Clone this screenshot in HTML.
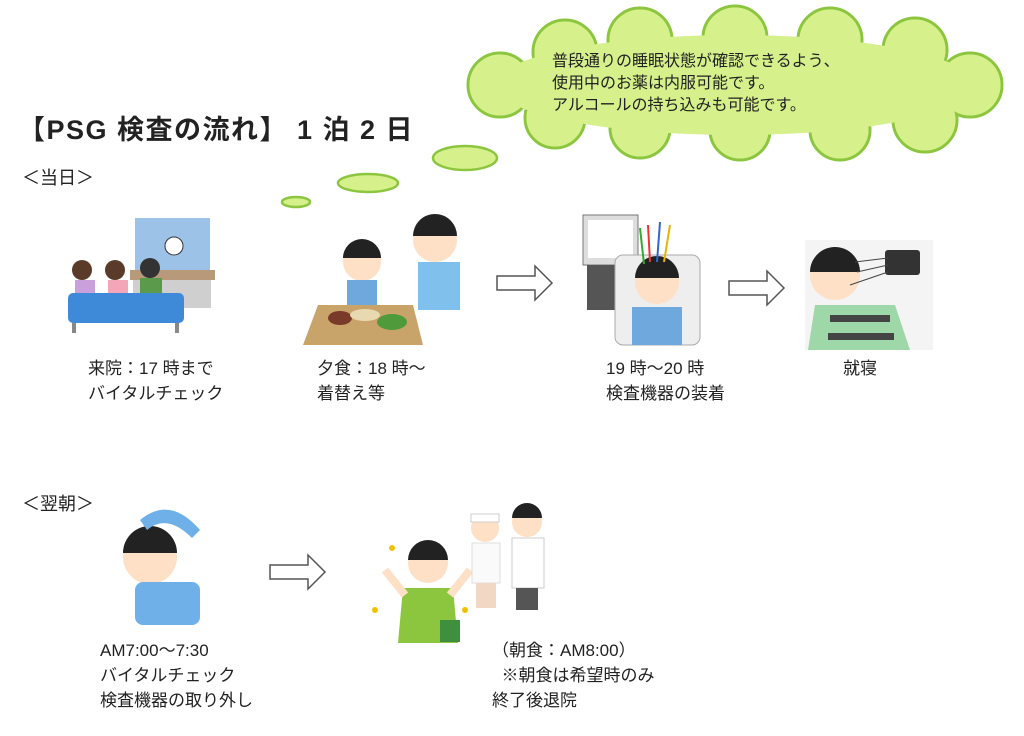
<!DOCTYPE html>
<html><head><meta charset="utf-8"><style>
body{margin:0;width:1024px;height:736px;background:#fff;position:relative;overflow:hidden;font-family:"Liberation Sans","Noto Sans CJK JP",sans-serif;color:#222}
.t{position:absolute;white-space:nowrap;font-size:17px;line-height:25px}
svg{position:absolute;left:0;top:0}
</style></head><body>
<svg width="1024" height="736" viewBox="0 0 1024 736">
<!-- cloud -->
<g fill="#d6f08c" stroke="#8cc63f" stroke-width="3">
<circle cx="565" cy="52" r="32"/><circle cx="640" cy="40" r="32"/><circle cx="735" cy="38" r="32"/><circle cx="830" cy="40" r="32"/><circle cx="915" cy="50" r="32"/>
<circle cx="970" cy="85" r="32"/><circle cx="925" cy="120" r="32"/><circle cx="840" cy="130" r="30"/><circle cx="740" cy="130" r="30"/>
<circle cx="640" cy="128" r="30"/><circle cx="555" cy="118" r="30"/><circle cx="500" cy="85" r="32"/>
</g>
<g fill="#d6f08c">
<circle cx="565" cy="52" r="30.5"/><circle cx="640" cy="40" r="30.5"/><circle cx="735" cy="38" r="30.5"/><circle cx="830" cy="40" r="30.5"/><circle cx="915" cy="50" r="30.5"/>
<circle cx="970" cy="85" r="30.5"/><circle cx="925" cy="120" r="30.5"/><circle cx="840" cy="130" r="28.5"/><circle cx="740" cy="130" r="28.5"/>
<circle cx="640" cy="128" r="28.5"/><circle cx="555" cy="118" r="28.5"/><circle cx="500" cy="85" r="30.5"/>
<ellipse cx="735" cy="85" rx="240" ry="50"/>
</g>
<g fill="#d6f08c" stroke="#8cc63f" stroke-width="2.5">
<ellipse cx="465" cy="158" rx="32" ry="12"/><ellipse cx="368" cy="183" rx="30" ry="9"/><ellipse cx="296" cy="202" rx="14" ry="5"/>
</g>
<!-- arrows -->
<g fill="#fff" stroke="#555" stroke-width="1.5">
<path d="M497 276h38v-10l17 17-17 17v-10h-38z"/>
<path d="M729 281h38v-10l17 17-17 17v-10h-38z"/>
<path d="M270 565h38v-10l17 17-17 17v-10h-38z"/>
</g>
<!-- reception -->
<rect x="135" y="218" width="75" height="70" fill="#9cc2e8"/>
<rect x="130" y="270" width="85" height="10" fill="#b89a7a"/>
<rect x="133" y="280" width="78" height="28" fill="#cfcfcf"/>
<circle cx="174" cy="246" r="9" fill="#fff" stroke="#333"/>
<circle cx="82" cy="270" r="10" fill="#5a3b2a"/><circle cx="115" cy="270" r="10" fill="#5a3b2a"/><circle cx="150" cy="268" r="10" fill="#333"/>
<rect x="75" y="280" width="20" height="15" fill="#c9a0dc"/><rect x="108" y="280" width="20" height="15" fill="#f4a6b8"/><rect x="140" y="278" width="22" height="17" fill="#5a9a4a"/>
<rect x="68" y="293" width="116" height="30" rx="5" fill="#3f8ad8"/>
<rect x="72" y="323" width="4" height="10" fill="#888"/><rect x="175" y="323" width="4" height="10" fill="#888"/>
<!-- dinner -->
<path d="M318 305h95l10 40H303z" fill="#c9a46a"/>
<circle cx="362" cy="262" r="19" fill="#fde0c5"/><path d="M343 258a19 19 0 0 1 38 0z" fill="#222"/>
<rect x="347" y="280" width="30" height="25" fill="#6fa8dc"/>
<circle cx="435" cy="240" r="22" fill="#fde0c5"/><path d="M413 236a22 22 0 0 1 44 0z" fill="#222"/>
<rect x="418" y="262" width="42" height="48" fill="#7fc0ec"/>
<ellipse cx="340" cy="318" rx="12" ry="7" fill="#7a3a2a"/><ellipse cx="392" cy="322" rx="15" ry="8" fill="#4f9a3a"/><ellipse cx="365" cy="315" rx="15" ry="6" fill="#e9d9b0"/>
<!-- EEG -->
<rect x="583" y="215" width="55" height="50" fill="#ddd" stroke="#777"/><rect x="588" y="220" width="45" height="38" fill="#fff"/>
<rect x="587" y="265" width="28" height="45" fill="#555"/>
<rect x="615" y="255" width="85" height="90" rx="8" fill="#eee" stroke="#aaa"/>
<circle cx="657" cy="282" r="22" fill="#fde0c5"/><path d="M635 278a22 22 0 0 1 44 0z" fill="#222"/>
<g stroke-width="2"><line x1="650" y1="262" x2="648" y2="225" stroke="#e33"/><line x1="657" y1="262" x2="660" y2="222" stroke="#36c"/><line x1="664" y1="262" x2="670" y2="225" stroke="#e9b400"/><line x1="644" y1="264" x2="640" y2="228" stroke="#3a3"/></g>
<rect x="632" y="307" width="50" height="38" fill="#6fa8dc"/>
<!-- sleep -->
<rect x="805" y="240" width="128" height="110" fill="#f4f4f4"/>
<circle cx="835" cy="275" r="25" fill="#fde0c5"/><path d="M810 272a25 25 0 0 1 50 0z" fill="#222"/>
<rect x="885" y="250" width="35" height="25" rx="3" fill="#333"/>
<g stroke="#444"><line x1="855" y1="262" x2="888" y2="258"/><line x1="857" y1="272" x2="888" y2="265"/><line x1="850" y1="285" x2="888" y2="272"/></g>
<path d="M815 305h80l15 45H808z" fill="#9ed8a8"/><rect x="830" y="315" width="60" height="7" fill="#444"/><rect x="828" y="333" width="66" height="7" fill="#444"/>
<!-- stretch -->
<circle cx="150" cy="557" r="27" fill="#fde0c5"/><path d="M123 553a27 27 0 0 1 54 0z" fill="#222"/>
<path d="M140 520q30-25 60 10l-8 8q-25-25-45-8z" fill="#6fb0e8"/>
<rect x="135" y="582" width="65" height="43" rx="8" fill="#6fb0e8"/>
<!-- happy -->
<circle cx="428" cy="563" r="20" fill="#fde0c5"/><path d="M408 560a20 20 0 0 1 40 0z" fill="#222"/>
<path d="M403 588h50l5 55h-60z" fill="#8cc63f"/><path d="M385 570l20 25M470 570l-20 25" stroke="#fde0c5" stroke-width="8"/>
<rect x="440" y="620" width="20" height="22" fill="#3f8f3f"/>
<circle cx="485" cy="528" r="14" fill="#fde0c5"/><path d="M471 522h28v-8h-28z" fill="#fff" stroke="#ccc"/>
<rect x="472" y="543" width="28" height="40" fill="#fafafa" stroke="#ddd"/><rect x="476" y="583" width="20" height="25" fill="#f2d7c5"/>
<circle cx="527" cy="522" r="15" fill="#fde0c5"/><path d="M512 518a15 15 0 0 1 30 0z" fill="#222"/>
<rect x="512" y="538" width="32" height="50" fill="#fff" stroke="#ccc"/><rect x="516" y="588" width="22" height="22" fill="#555"/>
<g fill="#f2c200"><circle cx="392" cy="548" r="3"/><circle cx="375" cy="610" r="3"/><circle cx="465" cy="610" r="3"/></g>
</svg>
<div class="t" style="left:18px;top:113px;font-size:27px;line-height:34px;font-weight:bold;letter-spacing:1.5px">【PSG 検査の流れ】 1 泊 2 日</div>
<div class="t" style="left:22px;top:166px;font-size:18px">＜当日＞</div>
<div class="t" style="left:552px;top:51px;font-size:16px;line-height:22px">普段通りの睡眠状態が確認できるよう、<br>使用中のお薬は内服可能です。<br>アルコールの持ち込みも可能です。</div>
<div class="t" style="left:88px;top:356px">来院：17 時まで<br>バイタルチェック</div>
<div class="t" style="left:317px;top:356px">夕食：18 時～<br>着替え等</div>
<div class="t" style="left:606px;top:356px">19 時～20 時<br>検査機器の装着</div>
<div class="t" style="left:843px;top:356px">就寝</div>
<div class="t" style="left:22px;top:492px;font-size:18px">＜翌朝＞</div>
<div class="t" style="left:100px;top:638px">AM7:00～7:30<br>バイタルチェック<br>検査機器の取り外し</div>
<div class="t" style="left:492px;top:638px">（朝食：AM8:00）<br>&nbsp;&nbsp;※朝食は希望時のみ<br>終了後退院</div>
</body></html>
